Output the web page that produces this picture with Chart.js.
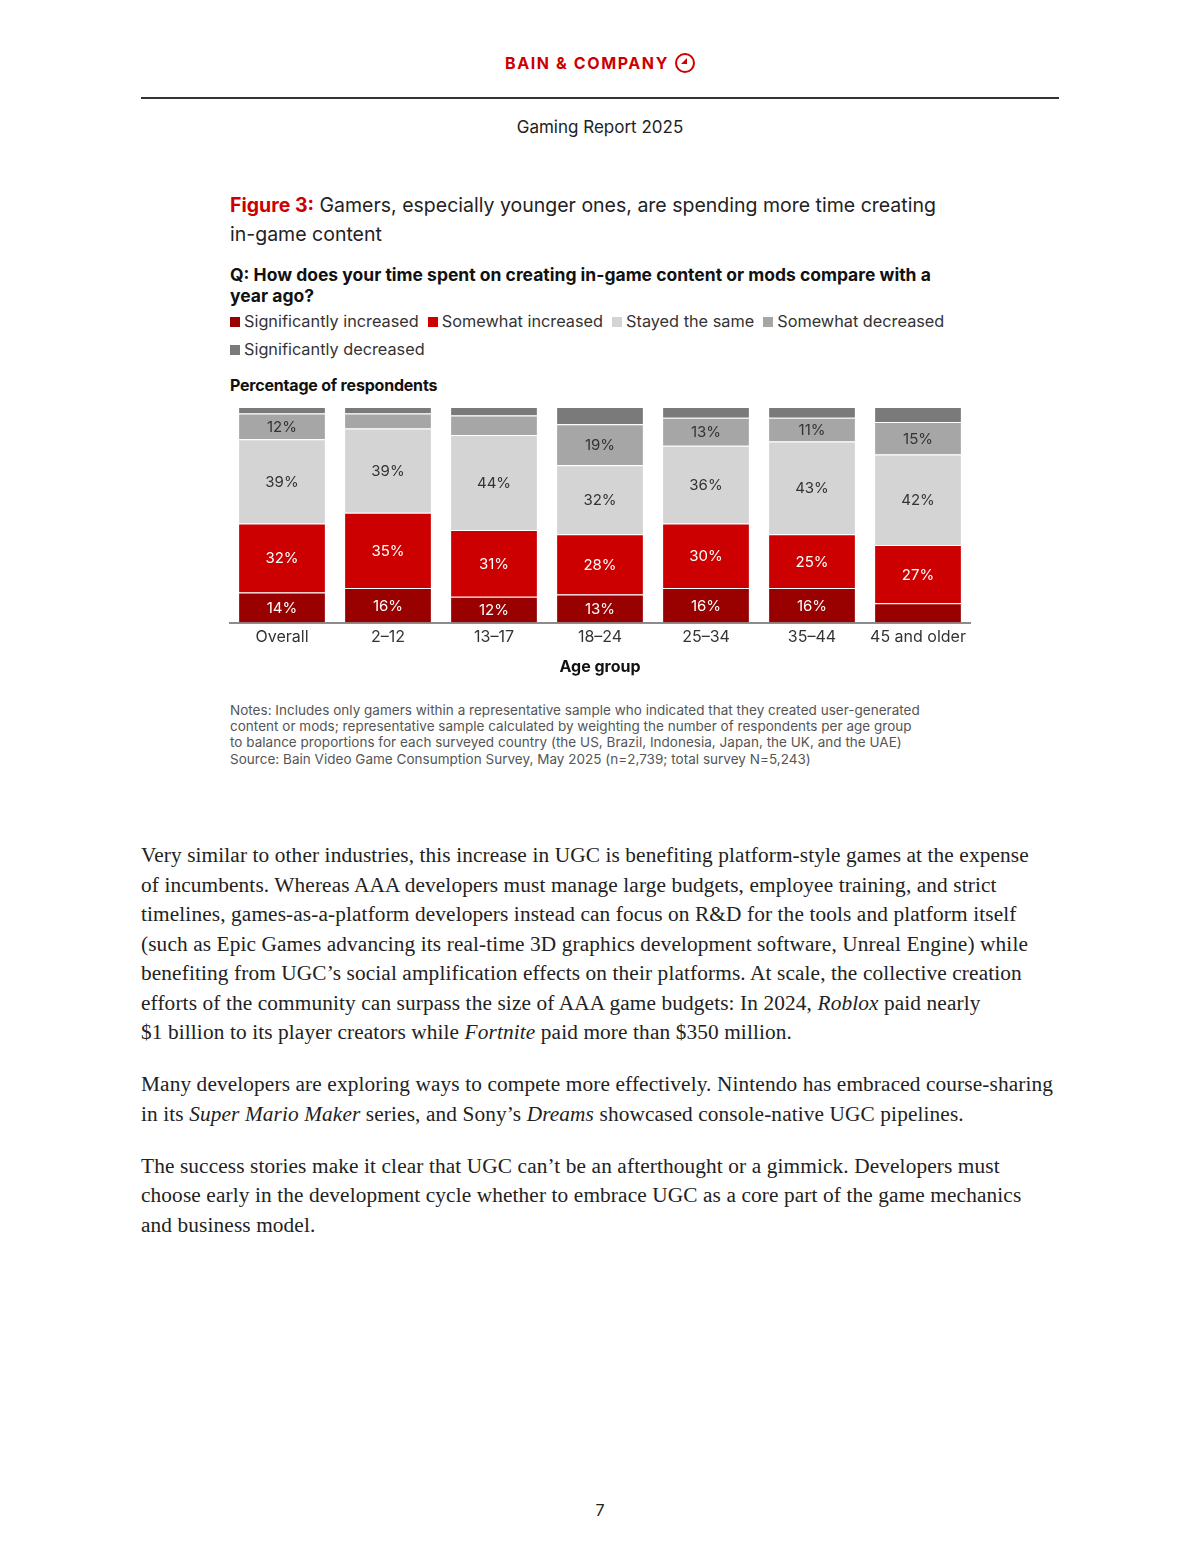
<!DOCTYPE html>
<html>
<head>
<meta charset="utf-8">
<script src="https://cdn.jsdelivr.net/npm/chart.js@4.4.1/dist/chart.umd.min.js"></script>
<style>
  html, body { margin: 0; padding: 0; background: #fff; }
  body { width: 1200px; height: 1555px; position: relative; font-family: Inter, Roboto, "Noto Sans", sans-serif; color: #222; }
  .abs { position: absolute; white-space: nowrap; }
  #brand { left: 0; width: 1200px; top: 53px; text-align: center; color: #cc0000; font-weight: 700; font-size: 16px; letter-spacing: 1.6px; }
  #brand .logo { display: inline-block; width: 16px; height: 16px; border: 2px solid #cc0000; border-radius: 50%; vertical-align: -4px; margin-left: 6px; position: relative; }
  #brand .logo:after { content: ""; position: absolute; left: 4px; top: 3px; width: 0; height: 0; border-left: 6px solid transparent; border-bottom: 6px solid #cc0000; }
  #rule { left: 141px; width: 918px; top: 97px; height: 2px; background: #333; }
  #report { left: 0; width: 1200px; top: 117px; text-align: center; font-size: 17px; }
  #figtitle { left: 230px; top: 191px; font-size: 19.5px; line-height: 29px; color: #222; }
  #figtitle b { color: #cc0000; font-weight: 700; }
  #question { left: 230px; top: 264px; font-size: 17.5px; font-weight: 700; line-height: 21px; letter-spacing: 0px; color: #111; }
  #legend { left: 230px; top: 307px; font-size: 16.3px; line-height: 28px; color: #333; }
  #legend span.sw { display: inline-block; width: 10px; height: 10px; margin-right: 4px; vertical-align: 0px; }
  #legend span.item { margin-right: 9px; }
  #ylab { left: 230px; top: 375px; font-size: 16px; font-weight: 700; letter-spacing: -0.2px; color: #111; }
  #chartbox { position: absolute; left: 229px; top: 398px; width: 742px; height: 279px; }
  #notes { left: 230px; top: 702px; font-size: 13.5px; line-height: 16.2px; color: #555; letter-spacing: 0.02px; }
  #body { left: 141px; top: 841px; font-family: "Liberation Serif", "DejaVu Serif", serif; font-size: 21.3px; line-height: 29.5px; color: #222; letter-spacing: 0.12px; }
  #body p { margin: 0 0 22.5px 0; }
  #page { left: 0; width: 1200px; top: 1500px; text-align: center; font-size: 16px; }
</style>
</head>
<body>
<div class="abs" id="brand">BAIN &amp; COMPANY<span class="logo"></span></div>
<div class="abs" id="rule"></div>
<div class="abs" id="report">Gaming Report 2025</div>

<div class="abs" id="figtitle"><b>Figure 3:</b> Gamers, especially younger ones, are spending more time creating<br>in-game content</div>
<div class="abs" id="question">Q: How does your time spent on creating in-game content or mods compare with a<br>year ago?</div>
<div class="abs" id="legend"></div>
<div class="abs" id="ylab">Percentage of respondents</div>

<div id="chartbox"><canvas id="chart"></canvas></div>

<div class="abs" id="notes">Notes: Includes only gamers within a representative sample who indicated that they created user-generated<br>content or mods; representative sample calculated by weighting the number of respondents per age group<br>to balance proportions for each surveyed country (the US, Brazil, Indonesia, Japan, the UK, and the UAE)<br>Source: Bain Video Game Consumption Survey, May 2025 (n=2,739; total survey N=5,243)</div>

<div class="abs" id="body">
<p>Very similar to other industries, this increase in UGC is benefiting platform-style games at the expense<br>of incumbents. Whereas AAA developers must manage large budgets, employee training, and strict<br>timelines, games-as-a-platform developers instead can focus on R&amp;D for the tools and platform itself<br>(such as Epic Games advancing its real-time 3D graphics development software, Unreal Engine) while<br>benefiting from UGC’s social amplification effects on their platforms. At scale, the collective creation<br>efforts of the community can surpass the size of AAA game budgets: In 2024, <i>Roblox</i> paid nearly<br>$1 billion to its player creators while <i>Fortnite</i> paid more than $350 million.</p>
<p>Many developers are exploring ways to compete more effectively. Nintendo has embraced course-sharing<br>in its <i>Super Mario Maker</i> series, and Sony’s <i>Dreams</i> showcased console-native UGC pipelines.</p>
<p>The success stories make it clear that UGC can’t be an afterthought or a gimmick. Developers must<br>choose early in the development cycle whether to embrace UGC as a core part of the game mechanics<br>and business model.</p>
</div>

<div class="abs" id="page">7</div>

<script>
// age groups on the x axis
const ageGroups = ["Overall", "2\u201312", "13\u201317", "18\u201324", "25\u201334", "35\u201344", "45 and older"];

// % of respondents, bottom to top of each bar
const sigIncreased = [14, 16, 12, 13, 16, 16, 9];
const somewhatIncreased = [32, 35, 31, 28, 30, 25, 27];
const stayedSame = [39, 39, 44, 32, 36, 43, 42];
const somewhatDecreased = [12, 7, 9, 19, 13, 11, 15];
const sigDecreased = [3, 3, 4, 8, 5, 5, 7];

const seriesNames = ["Significantly increased", "Somewhat increased", "Stayed the same", "Somewhat decreased", "Significantly decreased"];
const seriesColors = ["#990000", "#cc0000", "#d4d4d4", "#a6a6a6", "#7a7a7a"];
const labelColors = ["#ffffff", "#ffffff", "#333333", "#333333", "#333333"];

const seriesData = [sigIncreased, somewhatIncreased, stayedSame, somewhatDecreased, sigDecreased];

// html legend, same order as the report
const legendEl = document.getElementById("legend");
seriesNames.forEach((name, i) => {
  const item = document.createElement("span");
  item.className = "item";
  item.innerHTML = '<span class="sw" style="background:' + seriesColors[i] + '"></span>' + name;
  legendEl.appendChild(item);
  if (i === 3) legendEl.appendChild(document.createElement("br"));
});

// write the value in the middle of every segment big enough to hold it
const segmentLabels = {
  id: "segmentLabels",
  afterDatasetsDraw(chart) {
    const ctx = chart.ctx;
    ctx.save();
    ctx.font = "15px Inter, Roboto, sans-serif";
    ctx.textAlign = "center";
    ctx.textBaseline = "middle";
    chart.data.datasets.forEach((ds, di) => {
      const meta = chart.getDatasetMeta(di);
      meta.data.forEach((bar, i) => {
        const v = ds.data[i];
        if (v < 10) return;
        const mid = (bar.y + bar.base) / 2;
        ctx.fillStyle = labelColors[di];
        ctx.fillText(v + "%", bar.x, mid + 1);
      });
    });
    ctx.restore();
  }
};

const ctx = document.getElementById("chart").getContext("2d");
new Chart(ctx, {
  type: "bar",
  data: {
    labels: ageGroups,
    datasets: seriesData.map((d, i) => ({
      label: seriesNames[i],
      data: d,
      backgroundColor: seriesColors[i],
      borderColor: "#ffffff",
      borderWidth: { top: 1, bottom: 0, left: 0, right: 0 },
      borderSkipped: false,
      barPercentage: 0.81,
      categoryPercentage: 1.0
    }))
  },
  options: {
    responsive: true,
    maintainAspectRatio: false,
    animation: false,
    layout: { padding: { top: 9, left: 0, right: 0, bottom: 0 } },
    plugins: {
      legend: { display: false },
      tooltip: { enabled: false }
    },
    scales: {
      x: {
        stacked: true,
        grid: { display: false, drawTicks: false },
        border: { display: true, color: "#8c8c8c", width: 2 },
        ticks: { color: "#333", font: { size: 16, family: "Inter, Roboto, sans-serif" }, padding: 5 },
        title: { display: true, text: "Age group", color: "#111", font: { size: 16, weight: "bold", family: "Inter, Roboto, sans-serif" }, padding: { top: 6, bottom: 0 } }
      },
      y: {
        stacked: true,
        display: false,
        min: 0,
        max: 100
      }
    }
  },
  plugins: [segmentLabels]
});
</script>
</body>
</html>
